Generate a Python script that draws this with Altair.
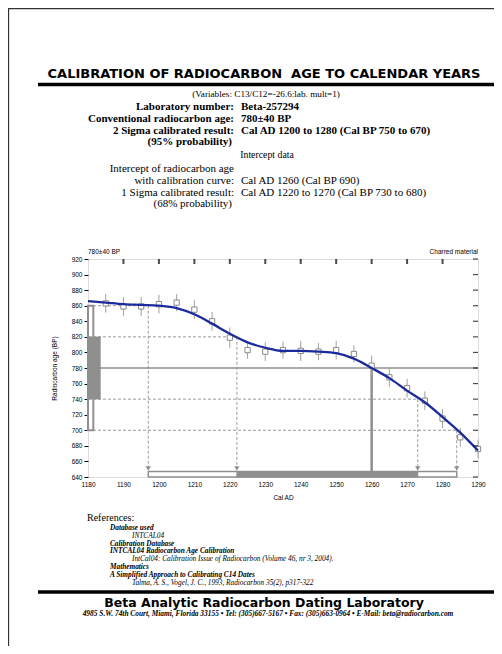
import altair as alt
import pandas as pd

# ---------------- data ----------------
curve_year = [1180, 1185, 1190, 1195, 1200, 1205, 1210, 1215, 1220, 1225, 1230, 1235,
              1240, 1245, 1250, 1255, 1260, 1265, 1270, 1275, 1280, 1285, 1290]
curve_bp = [866, 864, 862, 861, 860, 857, 849, 837, 824, 813, 806, 802,
            802, 801, 799, 792, 780, 767, 751, 736, 717, 697, 674]

pt_year = [1185, 1190, 1195, 1200, 1205, 1210, 1215, 1220, 1225, 1230, 1235,
           1240, 1245, 1250, 1255, 1260, 1265, 1270, 1275, 1280, 1285, 1290]
pt_bp = [863, 859, 859, 862, 864, 855, 840, 819, 803, 801, 803,
         802, 801, 803, 798, 783, 768, 754, 738, 715, 691, 676]
pt_err = [12, 12, 12, 12, 11, 12, 12, 13, 11, 12, 11,
          13, 11, 12, 11, 13, 12, 12, 12, 12, 12, 12]

bp_mean = 780
bp_1s_lo, bp_1s_hi = 740, 820
bp_2s_lo, bp_2s_hi = 700, 860
cal_2s = [1197, 1284]
cal_1s = [1222, 1273]
cal_intercept = 1260
cross_year = [1197, 1222, 1273, 1284]
cross_bp = [860, 820, 740, 700]

x_ticks = [1180, 1190, 1200, 1210, 1220, 1230, 1240, 1250, 1260, 1270, 1280, 1290]
y_ticks = [640, 660, 680, 700, 720, 740, 760, 780, 800, 820, 840, 860, 880, 900, 920]
top_ticks = [1190, 1200, 1210, 1220, 1230, 1240, 1250, 1260, 1270, 1280]

# ---------------- layout ----------------
W, H = 390, 218
OX, OY = 88, 259  # page position of the plot origin
GREY = "#8f8f8f"
NAVY = "#1b2a9c"
SANS = "Liberation Sans"
WIDE = "DejaVu Sans"
SERIF = "Liberation Serif"

xs = alt.Scale(domain=[1180, 1290], nice=False, zero=False)
ys = alt.Scale(domain=[640, 920], nice=False, zero=False)

XAXIS = alt.Axis(
    values=x_ticks, format="d", title="Cal AD", labelFont=SANS, labelFontSize=6.5,
    labelColor="black", ticks=False, domain=False, grid=False, labelPadding=4,
    titleFont=SANS, titleFontSize=6.5, titleFontWeight="normal", titleX=195, titleY=17,
    titleColor="black", labelFlush=False)
YAXIS = alt.Axis(
    values=y_ticks, format="d", title="Radiocarbon age (BP)", labelFont=SANS,
    labelFontSize=6.5, labelColor="black", tickSize=4, tickColor="black", tickWidth=1,
    domain=False, grid=False, labelPadding=2, titleFont=SANS, titleFontSize=6.5,
    titleFontWeight="normal", titleX=-31, titleY=109, titleColor="black", labelFlush=False)


def ex(field):
    return alt.X(field, type="quantitative", scale=xs, axis=XAXIS)


def ey(field):
    return alt.Y(field, type="quantitative", scale=ys, axis=YAXIS)


curve_df = pd.DataFrame({"yr": curve_year, "bp": curve_bp})
pts_df = pd.DataFrame({"yr": pt_year, "bp": pt_bp,
                       "lo": [b - e for b, e in zip(pt_bp, pt_err)],
                       "hi": [b + e for b, e in zip(pt_bp, pt_err)]})
cross_df = pd.DataFrame({"yr": cross_year, "bp": cross_bp, "x0": [1180] * 4,
                         "base": [652] * 4, "arrow": [651] * 4})

one = alt.InlineData(values=[{"k": 1}])

layers = []

# left distribution boxes
layers.append(alt.Chart(pd.DataFrame({"yr": [1180], "yr2": [1181.5], "bp": [bp_2s_lo], "bp2": [bp_2s_hi]}))
              .mark_rect(fill="white", stroke=GREY, strokeWidth=2)
              .encode(x=ex("yr"), x2="yr2", y=ey("bp"), y2="bp2"))
# horizontal line at measured age
layers.append(alt.Chart(pd.DataFrame({"yr": [1180], "yr2": [1290], "bp": [bp_mean]}))
              .mark_rule(color=GREY, strokeWidth=1.5).encode(x=ex("yr"), x2="yr2", y=ey("bp")))
layers.append(alt.Chart(pd.DataFrame({"yr": [1180], "yr2": [1183.5], "bp": [bp_1s_lo], "bp2": [bp_1s_hi]}))
              .mark_rect(fill=GREY, stroke=GREY, strokeWidth=0.5)
              .encode(x=ex("yr"), x2="yr2", y=ey("bp"), y2="bp2"))
# dashed horizontals and verticals
layers.append(alt.Chart(cross_df).mark_rule(color=GREY, strokeWidth=0.9, strokeDash=[3, 2])
              .encode(x=ex("x0"), x2="yr", y=ey("bp")))
layers.append(alt.Chart(cross_df).mark_rule(color=GREY, strokeWidth=0.9, strokeDash=[3, 2])
              .encode(x=ex("yr"), y=ey("bp"), y2="base"))
# intercept vertical
layers.append(alt.Chart(pd.DataFrame({"yr": [cal_intercept], "bp": [bp_mean], "bp2": [640]}))
              .mark_rule(color=GREY, strokeWidth=2.5).encode(x=ex("yr"), y=ey("bp"), y2="bp2"))
# bottom range bars
layers.append(alt.Chart(pd.DataFrame({"yr": [cal_2s[0]], "yr2": [cal_2s[1]], "bp": [640], "bp2": [647]}))
              .mark_rect(fill="white", stroke=GREY, strokeWidth=1.5)
              .encode(x=ex("yr"), x2="yr2", y=ey("bp"), y2="bp2"))
layers.append(alt.Chart(pd.DataFrame({"yr": [cal_1s[0]], "yr2": [cal_1s[1]], "bp": [640], "bp2": [647]}))
              .mark_rect(fill=GREY, stroke=GREY, strokeWidth=1)
              .encode(x=ex("yr"), x2="yr2", y=ey("bp"), y2="bp2"))
# arrows
layers.append(alt.Chart(cross_df).mark_point(shape="triangle-down", filled=True, color=GREY,
                                             size=28, opacity=1)
              .encode(x=ex("yr"), y=ey("arrow")))
# calibration points with error bars
layers.append(alt.Chart(pts_df).mark_rule(color="#a0a0a0", strokeWidth=1)
              .encode(x=ex("yr"), y=ey("lo"), y2="hi"))
layers.append(alt.Chart(pts_df).mark_square(fill="white", stroke="#8a8a8a", strokeWidth=1,
                                            size=28, opacity=1)
              .encode(x=ex("yr"), y=ey("bp")))
# calibration curve
layers.append(alt.Chart(curve_df).mark_line(color=NAVY, strokeWidth=2.3, interpolate="monotone")
              .encode(x=ex("yr"), y=ey("bp")))
# inner ticks on top and right frame
layers.append(alt.Chart(pd.DataFrame({"yr": top_ticks}))
              .mark_tick(orient="vertical", color="black", size=5, thickness=2)
              .encode(x=ex("yr"), y=alt.value(2.5)))
layers.append(alt.Chart(pd.DataFrame({"bp": y_ticks}))
              .mark_tick(orient="horizontal", color="black", size=5, thickness=1.2)
              .encode(y=ey("bp"), x=alt.value(W - 2.5)))


def txt(s, px, py, size, font=SERIF, weight="normal", style="normal", align="left", color="black"):
    return (alt.Chart(one)
            .mark_text(text=s, font=font, fontSize=size, fontWeight=weight, fontStyle=style,
                       align=align, baseline="middle", color=color)
            .encode(x=alt.value(px - OX), y=alt.value(py - OY)))


def hline(x1, x2, py, width, color="black"):
    return (alt.Chart(one).mark_rule(color=color, strokeWidth=width)
            .encode(x=alt.value(x1 - OX), x2=alt.value(x2 - OX), y=alt.value(py - OY)))


def vline(px, y1, y2, width, color="black"):
    return (alt.Chart(one).mark_rule(color=color, strokeWidth=width)
            .encode(x=alt.value(px - OX), y=alt.value(y1 - OY), y2=alt.value(y2 - OY)))


# page border
layers.append(hline(8, 494, 8.5, 1.3, "#333333"))
layers.append(vline(8.5, 8, 646, 1.3, "#333333"))

# header
layers.append(txt("CALIBRATION OF RADIOCARBON\u00a0 AGE TO CALENDAR YEARS", 264, 74, 13,
                  font=WIDE, weight="bold", align="center"))
layers.append(hline(38, 494, 84.5, 3.5))
layers.append(txt("(Variables:  C13/C12=-26.6:lab. mult=1)", 266, 94, 9.2, align="center"))

LBL, VAL = 234, 241
FS = 11
rows = [
    ("Laboratory number:", "Beta-257294", 107),
    ("Conventional radiocarbon age:", "780\u00b140 BP", 119),
    ("2 Sigma calibrated result:", "Cal AD 1200 to 1280 (Cal BP 750 to 670)", 131),
]
for lab, val, py in rows:
    layers.append(txt(lab, LBL, py, FS, weight="bold", align="right"))
    layers.append(txt(val, VAL, py, FS, weight="bold"))
layers.append(txt("(95% probability)", LBL - 2, 142, FS, weight="bold", align="right"))
layers.append(txt("Intercept data", 267, 155, 9.8, align="center"))
layers.append(txt("Intercept of radiocarbon age", LBL, 169, FS, align="right"))
layers.append(txt("with calibration curve:", LBL, 181, FS, align="right"))
layers.append(txt("Cal AD 1260 (Cal BP 690)", VAL, 181, FS))
layers.append(txt("1 Sigma calibrated result:", LBL, 193, FS, align="right"))
layers.append(txt("Cal AD 1220 to 1270 (Cal BP 730 to 680)", VAL, 193, FS))
layers.append(txt("(68% probability)", LBL - 2, 204, FS, align="right"))

# plot captions
layers.append(txt("780\u00b140 BP", OX, 252, 6.5, font=SANS))
layers.append(txt("Charred material", OX + W, 252, 6.5, font=SANS, align="right"))

# references
layers.append(txt("References:", 87, 518, 10))
refs = [
    ("Database used", 110, "bold"),
    ("INTCAL04", 132, "normal"),
    ("Calibration Database", 110, "bold"),
    ("INTCAL04 Radiocarbon Age Calibration", 110, "bold"),
    ("IntCal04: Calibration Issue of Radiocarbon (Volume 46, nr 3, 2004).", 132, "normal"),
    ("Mathematics", 110, "bold"),
    ("A Simplified Approach to Calibrating C14 Dates", 110, "bold"),
    ("Talma, A. S., Vogel, J. C., 1993, Radiocarbon 35(2), p317-322", 132, "normal"),
]
for i, (s, px, wt) in enumerate(refs):
    layers.append(txt(s, px, 528 + 7.8 * i, 7.3, weight=wt, style="italic"))

layers.append(hline(38, 494, 592, 3.5))
layers.append(txt("Beta Analytic Radiocarbon Dating Laboratory", 264, 603, 12.5, font=WIDE,
                  weight="bold", align="center"))
layers.append(txt("4985 S.W. 74th Court, Miami, Florida 33155 \u2022 Tel: (305)667-5167 \u2022 "
                  "Fax: (305)663-0964 \u2022 E-Mail: beta@radiocarbon.com",
                  268, 614, 7.4, weight="bold", style="italic", align="center"))

chart = (alt.layer(*layers)
         .properties(width=W, height=H,
                     autosize=alt.AutoSizeParams(type="none"),
                     padding={"left": OX - 8, "top": OY - 8, "right": 16, "bottom": 169})
         .configure_view(stroke="black", strokeWidth=1.3)
         .configure(background="white"))

chart.save("out.html", embed_options={"renderer": "svg", "actions": False})
